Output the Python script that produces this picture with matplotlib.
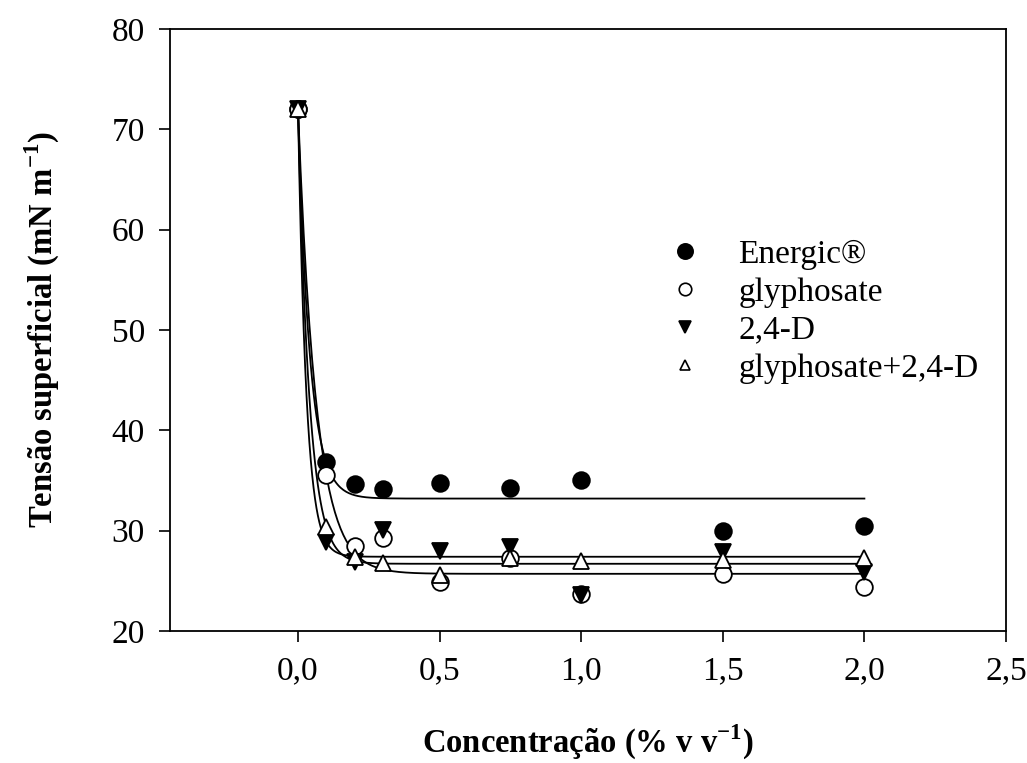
import numpy as np
import matplotlib
matplotlib.use("Agg")
import matplotlib.pyplot as plt
from matplotlib.ticker import FuncFormatter

plt.rcParams['font.family'] = ['Liberation Serif', 'DejaVu Serif']
plt.rcParams['mathtext.fontset'] = 'custom'
plt.rcParams['mathtext.rm'] = 'Liberation Serif'
plt.rcParams['mathtext.bf'] = 'Liberation Serif:bold'

conc = [0.0, 0.1, 0.2, 0.3, 0.5, 0.75, 1.0, 1.5, 2.0]
energic = [72.0, 36.8, 34.7, 34.2, 34.8, 34.3, 35.0, 30.0, 30.5]
glyphosate = [72.0, 35.5, 28.5, 29.3, 24.9, 27.3, 23.7, 25.7, 24.4]
d24 = [72.0, 28.9, 26.9, 30.1, 28.0, 28.4, 23.6, 27.9, 25.9]
glyph_d24 = [72.0, 30.4, 27.4, 26.8, 25.6, 27.3, 27.0, 27.1, 27.3]

labels = ['Energic®', 'glyphosate', '2,4-D', 'glyphosate+2,4-D']
# exponential decay fits y = y0 + a*exp(-b*x), parameters
fit_y0 = [33.2, 25.7, 27.4, 26.7]
fit_a = [38.8, 46.3, 44.6, 45.3]
fit_b = [23.8, 15.5, 34.0, 25.0]

fig = plt.figure(figsize=(10.27, 7.63), dpi=100)
ax = fig.add_axes([170 / 1027, 1 - 631 / 763, (1006 - 170) / 1027, (631 - 29) / 763])

series = [energic, glyphosate, d24, glyph_d24]
markers = ['o', 'o', 'v', '^']
faces = ['black', 'white', 'black', 'white']
leg_sizes = [11, 9, 9, 7]
for s, m, fc, lab in zip(series, markers, faces, labels):
    ax.plot(conc, s, linestyle='none', marker=m, markersize=12,
            markerfacecolor=fc, markeredgecolor='black', markeredgewidth=1.3,
            zorder=3)

xs = np.linspace(0, 2.0, 400)
for y0, a, b in zip(fit_y0, fit_a, fit_b):
    ax.plot(xs, y0 + a * np.exp(-b * xs), color='black', linewidth=1.3, zorder=2)

ax.set_xlim(-0.452, 2.5)
ax.set_ylim(20, 80)
ax.set_xticks([0.0, 0.5, 1.0, 1.5, 2.0, 2.5])
ax.set_yticks(range(20, 81, 10))
ax.xaxis.set_major_formatter(FuncFormatter(lambda v, p: f"{v:.1f}".replace('.', ',')))
ax.tick_params(direction='out', length=8, width=1.2, labelsize=24, pad=10,
               top=False, right=False)
for sp in ax.spines.values():
    sp.set_linewidth(1.3)

ax.set_xlabel(r'Concentração (% v v$^{\mathbf{-1}}$)', fontsize=23.5,
              fontweight='bold', labelpad=26)
ax.set_ylabel(r'Tensão superficial (mN m$^{\mathbf{-1}}$)', fontsize=23.5,
              fontweight='bold', labelpad=36)

leg_handles = [plt.Line2D([], [], linestyle='none', marker=m, markersize=ms,
                          markerfacecolor=fc, markeredgecolor='black', markeredgewidth=1.2)
               for m, fc, ms in zip(markers, faces, leg_sizes)]
ax.legend(handles=leg_handles, labels=labels, loc='upper left',
          bbox_to_anchor=(0.56, 0.70), frameon=False, fontsize=24,
          handlelength=1.0, handletextpad=1.1, labelspacing=0.22)

fig.savefig('out.png', dpi=100)
